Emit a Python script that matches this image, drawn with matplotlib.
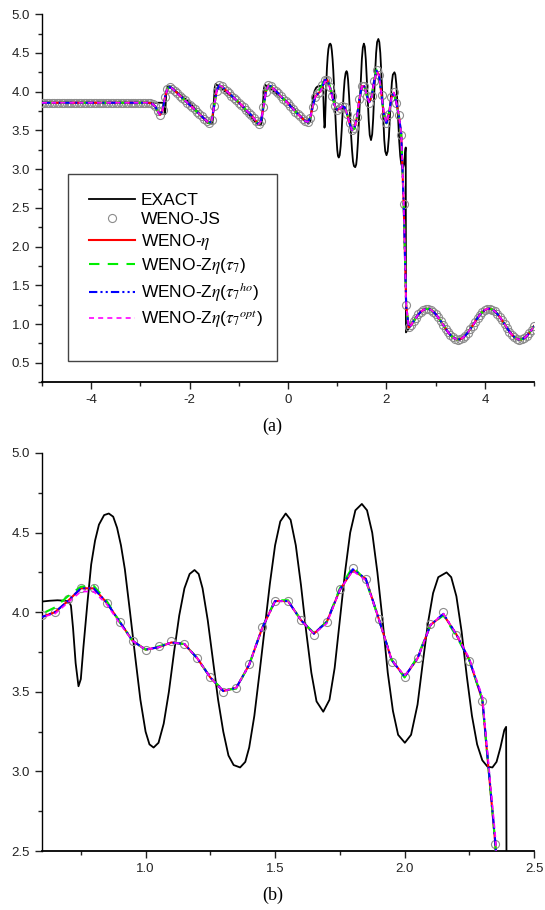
import numpy as np
import matplotlib
matplotlib.use('Agg')
import matplotlib.pyplot as plt
from matplotlib.ticker import MultipleLocator, FormatStrFormatter
from matplotlib.patches import Rectangle

plt.rcParams['font.family'] = ['Liberation Sans', 'DejaVu Sans']
plt.rcParams['mathtext.fontset'] = 'stix'
plt.rcParams['axes.unicode_minus'] = False

# ---- exact (reference) solution ----
exact_x = [-5.0, -2.55, -2.53, -2.515, -2.50, -2.49, -2.475, -2.46, -2.44, -2.40, -2.0,
           -1.64, -1.56, -1.53, -1.51, -1.49, -1.47, -1.0,
           -0.64, -0.56, -0.53, -0.51, -0.49, -0.47, 0.0,
           0.35, 0.42, 0.45, 0.48, 0.51, 0.54, 0.57,
           0.60, 0.63, 0.66, 0.69, 0.705, 0.712, 0.72, 0.73, 0.741, 0.75, 0.76, 0.775,
           0.79, 0.805, 0.82, 0.84, 0.858, 0.875, 0.89, 0.905, 0.92, 0.94, 0.96, 0.98,
           1.0, 1.015, 1.031, 1.05, 1.07, 1.09, 1.11, 1.13, 1.15, 1.17, 1.189, 1.205,
           1.22, 1.24, 1.26, 1.28, 1.30, 1.32, 1.34, 1.365, 1.385, 1.40, 1.42, 1.44,
           1.46, 1.48, 1.50, 1.52, 1.541, 1.56, 1.58, 1.60, 1.62, 1.64, 1.66, 1.686,
           1.71, 1.73, 1.75, 1.77, 1.79, 1.81, 1.835, 1.855, 1.875, 1.895, 1.915, 1.935,
           1.955, 1.975, 2.001, 2.025, 2.05, 2.07, 2.09, 2.11, 2.13, 2.162, 2.18, 2.20,
           2.22, 2.24, 2.26, 2.28, 2.30, 2.32, 2.339, 2.355, 2.37, 2.385, 2.392, 2.396,
           2.5, 2.6, 2.7, 2.8, 2.9, 3.0, 3.1, 3.2, 3.3, 3.4, 3.5, 3.6, 3.7, 3.8, 3.9,
           4.0, 4.1, 4.2, 4.3, 4.4, 4.5, 4.6, 4.7, 4.8, 4.9, 5.0]
exact_y = [3.857, 3.857, 3.85, 3.78, 3.71, 3.80, 3.98, 4.06, 4.075, 4.07, 3.86,
           3.60, 3.58, 3.62, 3.85, 4.05, 4.10, 3.86,
           3.59, 3.565, 3.61, 3.84, 4.04, 4.09, 3.86,
           3.62, 3.59, 3.62, 3.78, 3.93, 4.01, 4.05,
           4.067, 4.072, 4.075, 4.072, 4.065, 4.04, 3.90, 3.68, 3.535, 3.58, 3.78, 4.05,
           4.30, 4.45, 4.55, 4.61, 4.62, 4.60, 4.53, 4.42, 4.27, 4.00, 3.72, 3.45,
           3.25, 3.17, 3.15, 3.18, 3.30, 3.50, 3.75, 3.98, 4.15, 4.24, 4.265, 4.24,
           4.15, 3.95, 3.70, 3.45, 3.25, 3.10, 3.04, 3.025, 3.06, 3.15, 3.35, 3.62,
           3.90, 4.18, 4.42, 4.57, 4.62, 4.58, 4.42, 4.17, 3.88, 3.62, 3.44, 3.375,
           3.45, 3.65, 3.95, 4.25, 4.50, 4.64, 4.68, 4.64, 4.50, 4.25, 3.95, 3.62,
           3.38, 3.23, 3.18, 3.23, 3.42, 3.68, 3.93, 4.12, 4.22, 4.25, 4.22, 4.10,
           3.88, 3.60, 3.35, 3.17, 3.07, 3.03, 3.025, 3.06, 3.15, 3.26, 3.28, 0.893,
           0.987, 1.084, 1.161, 1.198, 1.187, 1.130, 1.041, 0.942, 0.858, 0.808, 0.804,
           0.850, 0.932, 1.030, 1.121, 1.183, 1.199, 1.167, 1.093, 0.998, 0.903, 0.831,
           0.800, 0.819, 0.882, 0.974]

# ---- numerical solutions on the N=200 grid (dx = 0.05) ----
num_x = np.round(np.linspace(-5.0, 5.0, 201), 2)

# -5.00 ... 0.55, all schemes coincide here
num_left = [3.857, 3.857, 3.857, 3.857, 3.857, 3.857, 3.857, 3.857, 3.857, 3.857, 3.857,
            3.857, 3.857, 3.857, 3.857, 3.857, 3.857, 3.857, 3.857, 3.857, 3.857, 3.857,
            3.857, 3.857, 3.857, 3.857, 3.857, 3.857, 3.857, 3.857, 3.857, 3.857, 3.857,
            3.857, 3.857, 3.857, 3.857, 3.857, 3.857, 3.857, 3.857, 3.857, 3.857, 3.857,
            3.852, 3.84, 3.81, 3.75, 3.70, 3.76, 3.93, 4.04, 4.06,
            4.04, 4.01, 3.98, 3.95, 3.92, 3.89, 3.86, 3.83, 3.80, 3.77, 3.74, 3.71,
            3.68, 3.65, 3.62, 3.595,
            3.63, 3.82, 4.01, 4.08,
            4.07, 4.04, 4.01, 3.98, 3.95, 3.92, 3.89, 3.86, 3.83, 3.80, 3.76, 3.73,
            3.70, 3.66, 3.62, 3.58,
            3.62, 3.80, 4.00, 4.08,
            4.07, 4.04, 4.01, 3.98, 3.94, 3.91, 3.88, 3.85, 3.81, 3.78, 3.74, 3.71,
            3.68, 3.65, 3.62, 3.61,
            3.66, 3.80, 3.93]

# 0.60 ... 2.35
js_mid = [3.98, 4.00, 4.08, 4.155, 4.155, 4.06, 3.94, 3.82, 3.76, 3.79, 3.82, 3.80,
          3.71, 3.59, 3.50, 3.525, 3.675, 3.905, 4.073, 4.073, 3.95, 3.86, 3.94, 4.144,
          4.28, 4.21, 3.96, 3.69, 3.59, 3.71, 3.925, 4.00, 3.86, 3.695, 3.445, 2.546]
eta_mid = [3.97, 4.00, 4.07, 4.15, 4.15, 4.06, 3.94, 3.82, 3.765, 3.78, 3.81, 3.80,
           3.71, 3.59, 3.505, 3.525, 3.67, 3.90, 4.07, 4.07, 3.95, 3.865, 3.94, 4.14,
           4.265, 4.21, 3.96, 3.70, 3.595, 3.71, 3.92, 3.985, 3.86, 3.70, 3.45, 2.55]
zt_mid = [3.99, 4.03, 4.10, 4.16, 4.165, 4.07, 3.94, 3.82, 3.765, 3.785, 3.81, 3.80,
          3.71, 3.59, 3.51, 3.52, 3.67, 3.90, 4.075, 4.075, 3.95, 3.87, 3.94, 4.15,
          4.285, 4.20, 3.96, 3.70, 3.59, 3.72, 3.92, 3.98, 3.85, 3.70, 3.45, 2.55]
zho_mid = [3.97, 4.00, 4.07, 4.15, 4.15, 4.06, 3.94, 3.82, 3.765, 3.78, 3.81, 3.80,
           3.71, 3.59, 3.505, 3.525, 3.67, 3.90, 4.07, 4.07, 3.95, 3.865, 3.94, 4.14,
           4.27, 4.21, 3.96, 3.70, 3.595, 3.71, 3.92, 3.99, 3.86, 3.70, 3.46, 2.56]
zopt_mid = [3.97, 3.99, 4.06, 4.13, 4.13, 4.05, 3.93, 3.82, 3.765, 3.78, 3.81, 3.80,
            3.71, 3.59, 3.505, 3.525, 3.67, 3.90, 4.07, 4.07, 3.95, 3.865, 3.93, 4.14,
            4.26, 4.20, 3.96, 3.70, 3.60, 3.71, 3.92, 3.99, 3.86, 3.71, 3.47, 2.60]

# 2.40 ... 5.00, all schemes coincide here
num_right = [1.25, 0.96, 0.985, 1.035, 1.08, 1.125, 1.16, 1.183, 1.195, 1.197, 1.185,
             1.162, 1.128, 1.087, 1.041, 0.992, 0.943, 0.898, 0.859, 0.828, 0.809, 0.801,
             0.805, 0.822, 0.850, 0.888, 0.932, 0.980, 1.030, 1.078, 1.121, 1.156, 1.182,
             1.197, 1.198, 1.188, 1.166, 1.134, 1.093, 1.047, 0.998, 0.950, 0.903, 0.863,
             0.831, 0.810, 0.800, 0.803, 0.819, 0.846, 0.882, 0.926, 0.974]

labels = ['EXACT', 'WENO-JS', r'WENO-$\eta$', r'WENO-Z$\eta$($\tau_7$)',
          r'WENO-Z$\eta$($\tau_7$$^{ho}$)', r'WENO-Z$\eta$($\tau_7$$^{opt}$)']


def full(mid):
    return np.concatenate([num_left, mid, num_right])


def draw(ax):
    h = []
    h += ax.plot(exact_x, exact_y, color='black', lw=1.3, zorder=2)
    h += ax.plot(num_x, full(js_mid), ls='none', marker='o', ms=5.8, mfc='none',
                 mec='#8c8c8c', mew=0.8, zorder=3)
    h += ax.plot(num_x, full(eta_mid), color='#ff0000', lw=1.5, zorder=4)
    h += ax.plot(num_x, full(zt_mid), color='#00ee00', lw=1.5, dashes=(5, 4), zorder=5)
    h += ax.plot(num_x, full(zho_mid), color='#0000ff', lw=1.5,
                 dashes=(4, 1.5, 1, 1.5, 1, 1.5), zorder=6)
    h += ax.plot(num_x, full(zopt_mid), color='#ff00ff', lw=1.2, dashes=(3, 2.5), zorder=7)
    return h


def style(ax, xmaj, xmin, ymaj, ymin, xfmt):
    for s in ['top', 'right']:
        ax.spines[s].set_visible(False)
    ax.spines['left'].set_linewidth(1.0)
    ax.spines['bottom'].set_linewidth(1.3)
    ax.xaxis.set_major_locator(MultipleLocator(xmaj))
    ax.xaxis.set_minor_locator(MultipleLocator(xmin))
    ax.yaxis.set_major_locator(MultipleLocator(ymaj))
    ax.yaxis.set_minor_locator(MultipleLocator(ymin))
    ax.xaxis.set_major_formatter(FormatStrFormatter(xfmt))
    ax.yaxis.set_major_formatter(FormatStrFormatter('%.1f'))
    ax.tick_params(which='both', direction='out', width=1.0, labelsize=9.5,
                   colors='#222222')
    ax.tick_params(which='major', length=5)
    ax.tick_params(which='minor', length=3)


fig = plt.figure(figsize=(5.45, 9.10), dpi=100)

ax1 = fig.add_axes([0.077, 0.580, 0.903, 0.4044])
handles = draw(ax1)
ax1.set_xlim(-5, 5)
ax1.set_ylim(0.25, 5.0)
style(ax1, 2, 1, 0.5, 0.25, '%d')
ax1.legend(handles, labels, loc='upper left', bbox_to_anchor=(0.095, 0.515),
           frameon=False, fontsize=12.5, handlelength=2.65, handletextpad=0.35,
           labelspacing=0.25, borderpad=0, borderaxespad=0)
ax1.add_patch(Rectangle((0.053, 0.057), 0.425, 0.508, transform=ax1.transAxes,
                        fill=False, ec='#444444', lw=1.0, zorder=8))

ax2 = fig.add_axes([0.077, 0.0648, 0.903, 0.4374])
draw(ax2)
ax2.set_xlim(0.6, 2.5)
ax2.set_ylim(2.5, 5.0)
style(ax2, 0.5, 0.25, 0.5, 0.25, '%.1f')

fig.text(0.5, 0.531, '(a)', ha='center', va='center', fontsize=13,
         family=['Liberation Serif', 'DejaVu Serif'])
fig.text(0.5, 0.016, '(b)', ha='center', va='center', fontsize=13,
         family=['Liberation Serif', 'DejaVu Serif'])

fig.savefig('out.png', dpi=100)
